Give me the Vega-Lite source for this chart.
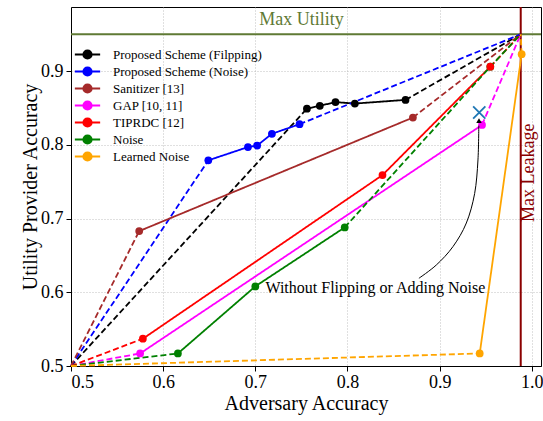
{
  "$schema": "https://vega.github.io/schema/vega-lite/v6.json",
  "width": 470,
  "height": 359,
  "autosize": {"type": "none"},
  "padding": {"left": 71, "top": 7, "right": 2, "bottom": 55},
  "config": {
    "view": {"stroke": "black", "strokeWidth": 1},
    "font": "Liberation Serif",
    "axis": {
      "labelFont": "Liberation Serif", "titleFont": "Liberation Serif",
      "labelFontSize": 18, "titleFontSize": 20, "titleFontWeight": "normal",
      "labelColor": "black", "titleColor": "black",
      "domainColor": "black", "tickColor": "black", "tickSize": 5,
      "gridColor": "#b0b0b0", "gridDash": [1, 2], "gridWidth": 0.8
    }
  },
  "datasets": {
    "lines": [
      {"s": "Proposed Scheme (Filpping)", "g": "F1", "d": "dash", "o": 1, "x": 0.5, "y": 0.5},
      {"s": "Proposed Scheme (Filpping)", "g": "F1", "d": "dash", "o": 2, "x": 0.756, "y": 0.849},
      {"s": "Proposed Scheme (Filpping)", "g": "F2", "d": "solid", "o": 1, "x": 0.756, "y": 0.849},
      {"s": "Proposed Scheme (Filpping)", "g": "F2", "d": "solid", "o": 2, "x": 0.770, "y": 0.853},
      {"s": "Proposed Scheme (Filpping)", "g": "F2", "d": "solid", "o": 3, "x": 0.787, "y": 0.858},
      {"s": "Proposed Scheme (Filpping)", "g": "F2", "d": "solid", "o": 4, "x": 0.808, "y": 0.856},
      {"s": "Proposed Scheme (Filpping)", "g": "F2", "d": "solid", "o": 5, "x": 0.863, "y": 0.861},
      {"s": "Proposed Scheme (Filpping)", "g": "F3", "d": "dash", "o": 1, "x": 0.863, "y": 0.861},
      {"s": "Proposed Scheme (Filpping)", "g": "F3", "d": "dash", "o": 2, "x": 0.988, "y": 0.95},
      {"s": "Proposed Scheme (Noise)", "g": "B1", "d": "dash", "o": 1, "x": 0.5, "y": 0.5},
      {"s": "Proposed Scheme (Noise)", "g": "B1", "d": "dash", "o": 2, "x": 0.649, "y": 0.779},
      {"s": "Proposed Scheme (Noise)", "g": "B2", "d": "solid", "o": 1, "x": 0.649, "y": 0.779},
      {"s": "Proposed Scheme (Noise)", "g": "B2", "d": "solid", "o": 2, "x": 0.692, "y": 0.797},
      {"s": "Proposed Scheme (Noise)", "g": "B2", "d": "solid", "o": 3, "x": 0.702, "y": 0.799},
      {"s": "Proposed Scheme (Noise)", "g": "B2", "d": "solid", "o": 4, "x": 0.718, "y": 0.815},
      {"s": "Proposed Scheme (Noise)", "g": "B2", "d": "solid", "o": 5, "x": 0.748, "y": 0.828},
      {"s": "Proposed Scheme (Noise)", "g": "B3", "d": "dash", "o": 1, "x": 0.748, "y": 0.828},
      {"s": "Proposed Scheme (Noise)", "g": "B3", "d": "dash", "o": 2, "x": 0.988, "y": 0.95},
      {"s": "Sanitizer [13]", "g": "S1", "d": "dash", "o": 1, "x": 0.5, "y": 0.5},
      {"s": "Sanitizer [13]", "g": "S1", "d": "dash", "o": 2, "x": 0.574, "y": 0.683},
      {"s": "Sanitizer [13]", "g": "S2", "d": "solid", "o": 1, "x": 0.574, "y": 0.683},
      {"s": "Sanitizer [13]", "g": "S2", "d": "solid", "o": 2, "x": 0.871, "y": 0.837},
      {"s": "Sanitizer [13]", "g": "S3", "d": "dash", "o": 1, "x": 0.871, "y": 0.837},
      {"s": "Sanitizer [13]", "g": "S3", "d": "dash", "o": 2, "x": 0.988, "y": 0.95},
      {"s": "GAP [10, 11]", "g": "G1", "d": "dash", "o": 1, "x": 0.5, "y": 0.5},
      {"s": "GAP [10, 11]", "g": "G1", "d": "dash", "o": 2, "x": 0.575, "y": 0.517},
      {"s": "GAP [10, 11]", "g": "G2", "d": "solid", "o": 1, "x": 0.575, "y": 0.517},
      {"s": "GAP [10, 11]", "g": "G2", "d": "solid", "o": 2, "x": 0.946, "y": 0.827},
      {"s": "GAP [10, 11]", "g": "G3", "d": "dash", "o": 1, "x": 0.946, "y": 0.827},
      {"s": "GAP [10, 11]", "g": "G3", "d": "dash", "o": 2, "x": 0.988, "y": 0.95},
      {"s": "TIPRDC [12]", "g": "T1", "d": "dash", "o": 1, "x": 0.5, "y": 0.5},
      {"s": "TIPRDC [12]", "g": "T1", "d": "dash", "o": 2, "x": 0.578, "y": 0.537},
      {"s": "TIPRDC [12]", "g": "T2", "d": "solid", "o": 1, "x": 0.578, "y": 0.537},
      {"s": "TIPRDC [12]", "g": "T2", "d": "solid", "o": 2, "x": 0.838, "y": 0.759},
      {"s": "TIPRDC [12]", "g": "T2", "d": "solid", "o": 3, "x": 0.955, "y": 0.906},
      {"s": "TIPRDC [12]", "g": "T3", "d": "dash", "o": 1, "x": 0.955, "y": 0.906},
      {"s": "TIPRDC [12]", "g": "T3", "d": "dash", "o": 2, "x": 0.988, "y": 0.95},
      {"s": "Noise", "g": "N1", "d": "dash", "o": 1, "x": 0.5, "y": 0.5},
      {"s": "Noise", "g": "N1", "d": "dash", "o": 2, "x": 0.616, "y": 0.517},
      {"s": "Noise", "g": "N2", "d": "solid", "o": 1, "x": 0.616, "y": 0.517},
      {"s": "Noise", "g": "N2", "d": "solid", "o": 2, "x": 0.700, "y": 0.608},
      {"s": "Noise", "g": "N2", "d": "solid", "o": 3, "x": 0.797, "y": 0.688},
      {"s": "Noise", "g": "N3", "d": "dash", "o": 1, "x": 0.797, "y": 0.688},
      {"s": "Noise", "g": "N3", "d": "dash", "o": 2, "x": 0.955, "y": 0.906},
      {"s": "Noise", "g": "N3", "d": "dash", "o": 3, "x": 0.988, "y": 0.95},
      {"s": "Learned Noise", "g": "L1", "d": "dash", "o": 1, "x": 0.5, "y": 0.5},
      {"s": "Learned Noise", "g": "L1", "d": "dash", "o": 2, "x": 0.9435, "y": 0.517},
      {"s": "Learned Noise", "g": "L2", "d": "solid", "o": 1, "x": 0.9435, "y": 0.517},
      {"s": "Learned Noise", "g": "L2", "d": "solid", "o": 2, "x": 0.989, "y": 0.923},
      {"s": "Learned Noise", "g": "L3", "d": "dash", "o": 1, "x": 0.989, "y": 0.923},
      {"s": "Learned Noise", "g": "L3", "d": "dash", "o": 2, "x": 0.988, "y": 0.95}
    ],
    "pts": [
      {"s": "Proposed Scheme (Filpping)", "x": 0.756, "y": 0.849},
      {"s": "Proposed Scheme (Filpping)", "x": 0.770, "y": 0.853},
      {"s": "Proposed Scheme (Filpping)", "x": 0.787, "y": 0.858},
      {"s": "Proposed Scheme (Filpping)", "x": 0.808, "y": 0.856},
      {"s": "Proposed Scheme (Filpping)", "x": 0.863, "y": 0.861},
      {"s": "Proposed Scheme (Noise)", "x": 0.649, "y": 0.779},
      {"s": "Proposed Scheme (Noise)", "x": 0.692, "y": 0.797},
      {"s": "Proposed Scheme (Noise)", "x": 0.702, "y": 0.799},
      {"s": "Proposed Scheme (Noise)", "x": 0.718, "y": 0.815},
      {"s": "Proposed Scheme (Noise)", "x": 0.748, "y": 0.828},
      {"s": "Sanitizer [13]", "x": 0.574, "y": 0.683},
      {"s": "Sanitizer [13]", "x": 0.871, "y": 0.837},
      {"s": "GAP [10, 11]", "x": 0.575, "y": 0.517},
      {"s": "GAP [10, 11]", "x": 0.946, "y": 0.827},
      {"s": "Noise", "x": 0.616, "y": 0.517},
      {"s": "Noise", "x": 0.700, "y": 0.608},
      {"s": "Noise", "x": 0.797, "y": 0.688},
      {"s": "Noise", "x": 0.955, "y": 0.906},
      {"s": "TIPRDC [12]", "x": 0.578, "y": 0.537},
      {"s": "TIPRDC [12]", "x": 0.838, "y": 0.759},
      {"s": "TIPRDC [12]", "x": 0.955, "y": 0.906},
      {"s": "Learned Noise", "x": 0.9435, "y": 0.517},
      {"s": "Learned Noise", "x": 0.989, "y": 0.923}
    ],
    "arrow": [
      {"o": 1, "x": 0.8775, "y": 0.619},
      {"o": 2, "x": 0.8964, "y": 0.637},
      {"o": 3, "x": 0.9145, "y": 0.662},
      {"o": 4, "x": 0.929, "y": 0.694},
      {"o": 5, "x": 0.938, "y": 0.734},
      {"o": 6, "x": 0.9416, "y": 0.7795},
      {"o": 7, "x": 0.9425, "y": 0.826}
    ]
  },
  "encoding": {
    "x": {"field": "x", "type": "quantitative", "scale": {"domain": [0.5, 1.01], "nice": false, "zero": false},
      "axis": {"title": "Adversary Accuracy", "values": [0.5, 0.6, 0.7, 0.8, 0.9, 1.0], "format": ".1f", "titlePadding": 2, "labelPadding": 2}},
    "y": {"field": "y", "type": "quantitative", "scale": {"domain": [0.5, 0.987], "nice": false, "zero": false},
      "axis": {"title": "Utility Provider Accuracy", "values": [0.5, 0.6, 0.7, 0.8, 0.9], "format": ".1f", "titlePadding": 0, "labelPadding": 3}}
  },
  "layer": [
    {
      "data": {"values": [{"y": 0.95}]},
      "mark": {"type": "rule", "color": "#5f7a35", "strokeWidth": 2},
      "encoding": {"x": null}
    },
    {
      "data": {"values": [{"x": 0.988}]},
      "mark": {"type": "rule", "color": "#8b0000", "strokeWidth": 2},
      "encoding": {"y": null}
    },
    {
      "data": {"values": [{"x": 0.75, "y": 0.969, "t": "Max Utility"}]},
      "mark": {"type": "text", "color": "#5f7a35", "fontSize": 18, "font": "Liberation Serif", "align": "center", "baseline": "middle"},
      "encoding": {"text": {"field": "t"}}
    },
    {
      "data": {"values": [{"x": 0.997, "y": 0.762, "t": "Max Leakage"}]},
      "mark": {"type": "text", "color": "#8b0000", "fontSize": 18, "font": "Liberation Serif", "align": "center", "baseline": "middle", "angle": 270},
      "encoding": {"text": {"field": "t"}}
    },
    {
      "data": {"name": "lines"},
      "mark": {"type": "line", "strokeWidth": 1.8},
      "encoding": {
        "color": {"field": "s", "type": "nominal", "sort": null,
          "scale": {"domain": ["Proposed Scheme (Filpping)", "Proposed Scheme (Noise)", "Sanitizer [13]", "GAP [10, 11]", "TIPRDC [12]", "Noise", "Learned Noise"],
            "range": ["#000000", "#0000ff", "#a52a2a", "#ff00ff", "#ff0000", "#008000", "#ffa500"]},
          "legend": {"title": null, "orient": "none", "legendX": 9, "legendY": 40,
            "labelFont": "Liberation Serif", "labelFontSize": 13, "labelColor": "black", "labelLimit": 300,
            "rowPadding": 0, "labelOffset": 18,
            "symbolType": "M-2,0L2,0M0.65,0A0.65,0.65,0,1,1,-0.65,0A0.65,0.65,0,1,1,0.65,0Z",
            "symbolSize": 160, "symbolStrokeWidth": 2,
            "encode": {"symbols": {"update": {"fill": {"scale": "color", "field": "value"}, "stroke": {"scale": "color", "field": "value"}}}}}},
        "detail": {"field": "g"},
        "order": {"field": "o"},
        "strokeDash": {"field": "d", "type": "nominal", "scale": {"domain": ["dash", "solid"], "range": [[6, 3], [1, 0]]}, "legend": null}
      }
    },
    {
      "data": {"name": "pts"},
      "mark": {"type": "point", "filled": true, "opacity": 1, "size": 60},
      "encoding": {"color": {"field": "s", "type": "nominal", "sort": null}}
    },
    {
      "data": {"values": [{"x": 0.943, "y": 0.844}]},
      "mark": {"type": "point", "shape": "M-1,-1L1,1M-1,1L1,-1", "stroke": "#1f77b4", "strokeWidth": 1.8, "filled": false, "size": 150, "opacity": 1}
    },
    {
      "data": {"name": "arrow"},
      "mark": {"type": "line", "color": "black", "strokeWidth": 1, "interpolate": "cardinal"},
      "encoding": {"order": {"field": "o"}}
    },
    {
      "data": {"values": [{"x": 0.9427, "y": 0.833}]},
      "mark": {"type": "point", "shape": "triangle-up", "fill": "black", "filled": true, "size": 30, "opacity": 1}
    },
    {
      "data": {"values": [{"x": 0.711, "y": 0.606, "t": "Without Flipping or Adding Noise"}]},
      "mark": {"type": "text", "color": "black", "fontSize": 16, "font": "Liberation Serif", "align": "left", "baseline": "middle"},
      "encoding": {"text": {"field": "t"}}
    }
  ]
}
